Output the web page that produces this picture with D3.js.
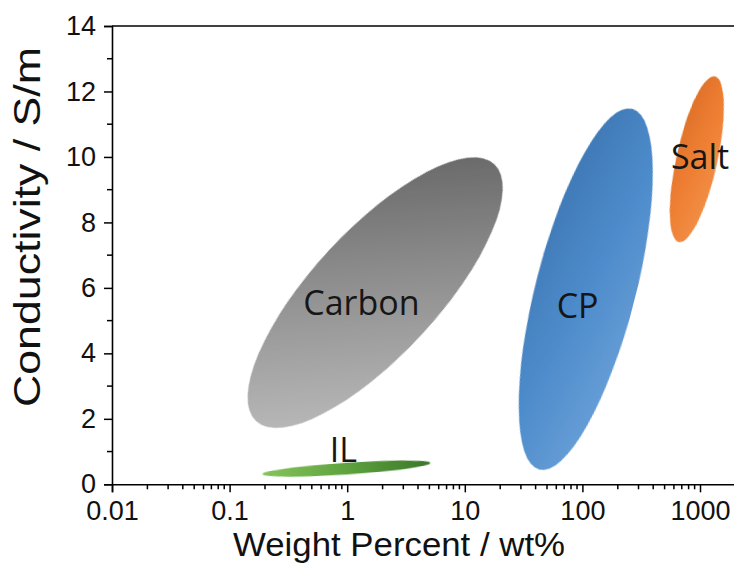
<!DOCTYPE html>
<html>
<head>
<meta charset="utf-8">
<script src="https://cdn.jsdelivr.net/npm/d3@7"></script>
<style>
  body { margin: 0; background: #fff; }
  svg { display: block; }
</style>
</head>
<body>
<svg id="chart" width="734" height="565"></svg>
<script>
// each region is an ellipse: the two ends of its long axis
const regions = ["Carbon", "CP", "Salt", "IL"];
const wtStart = [0.168, 43, 660, 0.19];
const wtEnd = [17.8, 265, 1340, 5.1];
const condStart = [1.93, 0.45, 7.4, 0.31];
const condEnd = [9.78, 11.47, 12.46, 0.65];
// short axis / long axis
const widthRatio = [0.357, 0.268, 0.242, 0.069];
// where the name sits (baseline)
const labelWt = [1.32, 91, 1000, 0.93];
const labelCond = [5.17, 5.08, 9.63, 0.68];

const xTicks = [0.01, 0.1, 1, 10, 100, 1000];
const yTicks = [0, 2, 4, 6, 8, 10, 12, 14];
const yMinorTicks = [1, 3, 5, 7, 9, 11, 13];

// light end -> dark end of each fill
const fills = [
  ["#c4c4c4", "#929292", "#5c5c5c"],
  ["#8ebbe7", "#4d8bcb", "#2a5e94"],
  ["#f8a96c", "#ee7f32", "#c4561b"],
  ["#86c45a", "#5fa23f", "#3a7728"],
];

const width = 734;
const height = 565;
const plotLeft = 112;
const plotTop = 26;
const plotBottom = 484.3;
const decade = 117.6;

const svg = d3.select("#chart");

const x = d3
  .scaleLog()
  .domain([0.01, 2000])
  .range([plotLeft, plotLeft + decade * Math.log10(2000 / 0.01)]);

const y = d3.scaleLinear().domain([0, 14]).range([plotBottom, plotTop]);

const defs = svg.append("defs");

defs
  .append("filter")
  .attr("id", "soft")
  .attr("x", "-10%")
  .attr("y", "-10%")
  .attr("width", "120%")
  .attr("height", "120%")
  .append("feGaussianBlur")
  .attr("stdDeviation", 0.6);

// ellipses
regions.forEach((name, i) => {
  const x1 = x(wtStart[i]);
  const y1 = y(condStart[i]);
  const x2 = x(wtEnd[i]);
  const y2 = y(condEnd[i]);
  const cx = (x1 + x2) / 2;
  const cy = (y1 + y2) / 2;
  const rx = Math.hypot(x2 - x1, y2 - y1) / 2;
  const ry = rx * widthRatio[i];
  const angle = (Math.atan2(y2 - y1, x2 - x1) * 180) / Math.PI;

  const grad = defs
    .append("linearGradient")
    .attr("id", "grad" + i)
    .attr("gradientUnits", "userSpaceOnUse")
    .attr("x1", x1)
    .attr("y1", y1)
    .attr("x2", x2)
    .attr("y2", y2);
  fills[i].forEach((c, k) => {
    grad
      .append("stop")
      .attr("offset", k / (fills[i].length - 1))
      .attr("stop-color", c);
  });

  svg
    .append("ellipse")
    .attr("cx", cx)
    .attr("cy", cy)
    .attr("rx", rx)
    .attr("ry", ry)
    .attr("transform", "rotate(" + angle + "," + cx + "," + cy + ")")
    .style("fill", "url(#grad" + i + ")")
    .attr("filter", "url(#soft)");
});

// region names
svg
  .append("g")
  .selectAll("text")
  .data(regions)
  .join("text")
  .attr("x", (d, i) => x(labelWt[i]))
  .attr("y", (d, i) => y(labelCond[i]))
  .attr("text-anchor", "middle")
  .style("font-family", "'Open Sans', sans-serif")
  .style("font-size", "34px")
  .style("fill", "#161616")
  .text((d) => d);

// axes
const tickFont = "'Liberation Sans', Arial, sans-serif";

const xAxis = svg
  .append("g")
  .attr("transform", "translate(0," + plotBottom + ")")
  .call(
    d3
      .axisBottom(x)
      .tickValues(xTicks)
      .tickFormat((d) => String(d))
      .tickSize(8)
      .tickPadding(9)
  );

const xMinor = x.ticks().filter((d) => Math.abs(Math.log10(d) % 1) > 1e-6);
xAxis
  .selectAll(".minor")
  .data(xMinor)
  .join("line")
  .attr("class", "minor")
  .attr("x1", (d) => x(d))
  .attr("x2", (d) => x(d))
  .attr("y1", 0)
  .attr("y2", 5)
  .attr("stroke", "#000")
  .attr("stroke-width", 1.5);

const yAxis = svg
  .append("g")
  .attr("transform", "translate(" + plotLeft + ",0)")
  .call(d3.axisLeft(y).tickValues(yTicks).tickSize(8).tickPadding(8));

yAxis
  .selectAll(".minor")
  .data(yMinorTicks)
  .join("line")
  .attr("class", "minor")
  .attr("x1", 0)
  .attr("x2", -5)
  .attr("y1", (d) => y(d))
  .attr("y2", (d) => y(d))
  .attr("stroke", "#000")
  .attr("stroke-width", 1.5);

[xAxis, yAxis].forEach((g) => {
  g.selectAll("path, line").attr("stroke", "#000").attr("stroke-width", 1.5);
  g.select(".domain").attr("stroke-width", 1.6);
  g.selectAll("text")
    .style("font-family", tickFont)
    .style("font-size", "27px")
    .style("fill", "#111");
});

// top frame line
svg
  .append("line")
  .attr("x1", plotLeft)
  .attr("x2", x.range()[1])
  .attr("y1", y(14))
  .attr("y2", y(14))
  .attr("stroke", "#000")
  .attr("stroke-width", 1.5);

// axis titles
svg
  .append("text")
  .attr("x", 399)
  .attr("y", 556)
  .attr("text-anchor", "middle")
  .attr("textLength", 332)
  .attr("lengthAdjust", "spacingAndGlyphs")
  .style("font-family", tickFont)
  .style("font-size", "33px")
  .style("fill", "#111")
  .text("Weight Percent / wt%");

svg
  .append("text")
  .attr("transform", "translate(40,227) rotate(-90)")
  .attr("text-anchor", "middle")
  .attr("textLength", 360)
  .attr("lengthAdjust", "spacingAndGlyphs")
  .style("font-family", tickFont)
  .style("font-size", "37px")
  .style("fill", "#111")
  .text("Conductivity / S/m");
</script>
</body>
</html>
